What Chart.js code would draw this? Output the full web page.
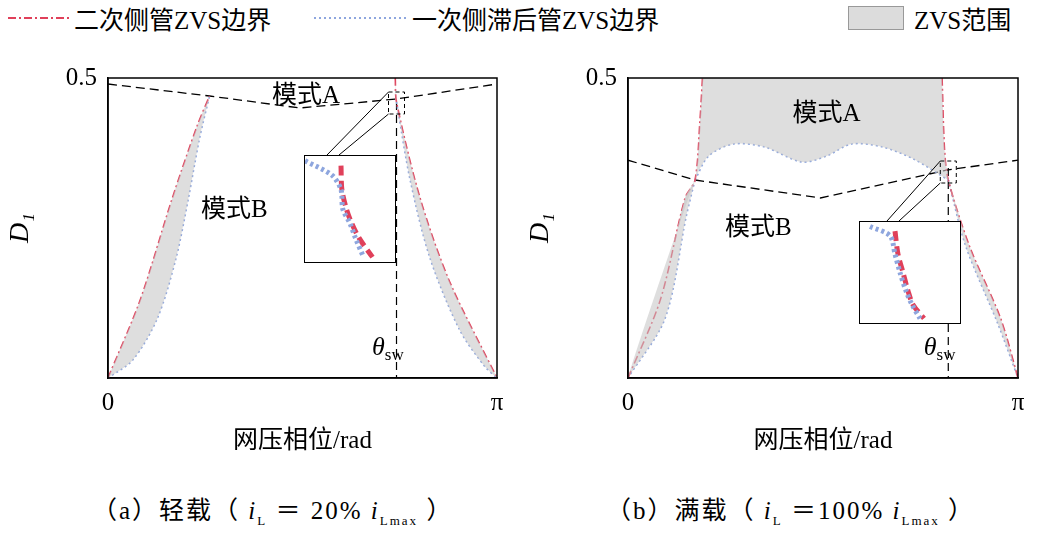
<!DOCTYPE html>
<html><head><meta charset="utf-8">
<script src="https://cdn.jsdelivr.net/npm/chart.js@4"></script>
<style>
body{margin:0;width:1063px;height:534px;background:#fff;position:relative;overflow:hidden;font-family:"Liberation Serif","Noto Sans CJK SC",serif;}
.box{position:absolute}
.leg{position:absolute;top:0;font-size:25px;display:flex;align-items:center;white-space:nowrap}
.cap{position:absolute;top:490px;font-size:25px;white-space:nowrap;letter-spacing:2px}
.inset{position:absolute;border:1.5px solid #000;background:#fff}
</style></head><body>
<div class="leg" style="left:6px"><svg width="68" height="20"><line x1="2" y1="10" x2="66" y2="10" stroke="#e0405a" stroke-width="2" stroke-dasharray="8,3,2,3"/></svg>二次侧管ZVS边界</div>
<div class="leg" style="left:312px"><svg width="100" height="20"><line x1="2" y1="10" x2="96" y2="10" stroke="#8ea6de" stroke-width="2" stroke-dasharray="2,3"/></svg>一次侧滞后管ZVS边界</div>
<div class="leg" style="left:848px"><span style="display:inline-block;width:54px;height:22px;background:#dcdcdc;border:1px solid #999;margin-right:10px"></span>ZVS范围</div>
<div class="box" style="left:0;top:0;width:510px;height:480px"><canvas id="c1"></canvas></div>
<div class="box" style="left:520px;top:0;width:511px;height:480px"><canvas id="c2"></canvas></div>
<div class="inset" style="left:304px;top:155px;width:90px;height:106px"><canvas id="i1"></canvas></div>
<div class="inset" style="left:859px;top:221px;width:100px;height:101px"><canvas id="i2"></canvas></div>
<div class="cap" style="left:92px">（a）轻载（ <i>i</i><sub style="font-size:13px">L</sub> ＝ 20% <i>i</i><sub style="font-size:13px">Lmax</sub> ）</div>
<div class="cap" style="left:606px">（b）满载（ <i>i</i><sub style="font-size:13px">L</sub> ＝100% <i>i</i><sub style="font-size:13px">Lmax</sub> ）</div>
<script>
const PI = Math.PI;
// Panel (a) light load: [rad, D1]
const aRedL = [[0,0],[0.26,0.13],[0.52,0.3],[0.72,0.42],[0.82,0.47]];
const aBlueL = [[0,0],[0.2,0.03],[0.4,0.1],[0.55,0.2],[0.65,0.3],[0.74,0.4],[0.82,0.47]];
const aRedR = [[2.32,0.5],[2.33,0.46],[2.52,0.3],[2.76,0.16],[PI,0]];
const aBlueR = [[2.33,0.46],[2.44,0.33],[2.6,0.2],[2.84,0.08],[3.04,0.02],[PI,0]];
const aDash = [[0,0.49],[0.82,0.47],[1.55,0.45],[2.33,0.465],[PI,0.49]];
const aSw = [[2.33,0.46],[2.33,0]];
// Panel (b) full load
const bRedL = [[0,0],[0.26,0.13],[0.46,0.3],[0.54,0.33],[0.58,0.43],[0.6,0.5]];
const bBlueL = [[0,0],[0.3,0.1],[0.47,0.27],[0.54,0.33]];
const bBlueTop = [[0.54,0.33],[0.65,0.37],[0.85,0.39],[1.1,0.385],[1.4,0.36],[1.6,0.37],[1.8,0.39],[2.05,0.385],[2.3,0.365],[2.58,0.33]];
const bRedR = [[2.53,0.5],[2.55,0.38],[2.58,0.33],[2.75,0.22],[3.0,0.1],[PI,0]];
const bBlueR = [[2.58,0.33],[2.72,0.22],[2.98,0.09],[PI,0]];
const bDash = [[0,0.363],[0.54,0.33],[1.55,0.3],[2.58,0.347],[PI,0.363]];
const bSw = [[2.58,0.35],[2.58,0]];
// Insets (zoomed detail, arbitrary units)
const iBlue = [[0,10],[3,8.5],[4,7],[4.2,5],[5,3.5],[5.6,2],[6.5,0]];
const iRed = [[4,9.5],[4.1,7],[4.6,5],[5.2,3.5],[6,2],[7.5,0]];
const jBlue = [[1,10],[3,9],[3.5,7],[4,5],[4.6,3],[5.2,1.5],[6,0]];
const jRed = [[3.5,9.5],[3.8,7],[4.3,5],[4.8,3],[5.3,1.5],[6.4,0]];

const RED='#e0405a', BLUE='#8ea6de', GRAY='rgba(200,200,200,0.6)';
const P = a => a.map(([x,y])=>({x,y}));
const poly = (...parts)=>P([].concat(...parts));
const line = (d,c,dash,w=1.6)=>({data:P(d),borderColor:c,borderDash:dash,borderWidth:w,pointRadius:0,fill:false,tension:0.3});
const shape = d=>({data:d,borderWidth:0,pointRadius:0,fill:'shape',backgroundColor:GRAY,tension:0.3});
const F = '"Liberation Serif","Noto Sans CJK SC",serif';

function mk(id, datasets, texts, sw, zoomBox){
  new Chart(document.getElementById(id),{type:'scatter',data:{datasets},
    options:{animation:false,responsive:true,maintainAspectRatio:false,showLine:true,
      layout:{padding:{top:78,right:13,left:0,bottom:0}},
      plugins:{legend:{display:false},tooltip:{enabled:false}},
      scales:{
        x:{type:'linear',min:0,max:PI,grid:{display:false},border:{color:'#000',width:1.5},
          afterFit:s=>{s.height=102},
          afterBuildTicks:s=>{s.ticks=[{value:0},{value:PI}]},
          ticks:{color:'#000',font:{family:F,size:25},padding:2,maxRotation:0,callback:v=>v===0?'0':'π'},
          title:{display:true,text:'网压相位/rad',color:'#000',font:{family:F,size:25},padding:{top:0,bottom:24}}},
        y:{min:0,max:0.5,grid:{display:false},border:{color:'#000',width:1.5},
          afterFit:s=>{s.width=108},
          afterBuildTicks:s=>{s.ticks=[{value:0.5}]},
          ticks:{color:'#000',font:{family:F,size:25},callback:v=>'0.5'},
          title:{display:true,text:'D₁',color:'#000',font:{family:F,size:28,style:'italic'},padding:{bottom:22}}}
      }},
    plugins:[{id:'deco',afterDatasetsDraw(c){
      const g=c.ctx,a=c.chartArea,xs=c.scales.x,ys=c.scales.y;
      g.save();g.strokeStyle='#000';g.lineWidth=1.5;g.strokeRect(a.left,a.top,a.width,a.height);
      g.fillStyle='#000';g.textBaseline='middle';
      texts.forEach(t=>{g.font=t.f||('25px '+F);g.textAlign='center';g.fillText(t.s,xs.getPixelForValue(t.x),ys.getPixelForValue(t.y));});
      const tx=xs.getPixelForValue(sw[0]),ty=ys.getPixelForValue(sw[1]);
      g.textAlign='right';g.font='italic 26px '+F;g.fillText('θ',tx-8,ty);g.font='17px '+F;g.textAlign='left';g.fillText('sw',tx-8,ty+8);
      const [zx,zy,ix,iy,iw]=zoomBox;
      const bx=xs.getPixelForValue(zx),by=ys.getPixelForValue(zy);
      g.lineWidth=1;g.setLineDash([4,3]);g.strokeRect(bx-8,by-10,16,22);g.setLineDash([]);
      g.beginPath();g.moveTo(bx-8,by+12);g.lineTo(ix+iw/2-10,iy);g.moveTo(bx-8,by-10);g.lineTo(ix+iw/2-22,iy);g.stroke();
      g.restore();
    }}]});
}
mk('c1',[
  shape(poly(aRedL,aBlueL.slice().reverse())),
  shape(poly(aRedR,aBlueR.slice().reverse())),
  line(aRedL,RED,[8,3,2,3]),line(aBlueL,BLUE,[2,3]),
  line(aRedR,RED,[8,3,2,3]),line(aBlueR,BLUE,[2,3]),
  {...line(aDash,'#000',[9,5],1.3),tension:0},{...line(aSw,'#000',[8,5],1.2),tension:0}
],[{s:'模式A',x:1.6,y:0.47},{s:'模式B',x:1.02,y:0.28}],[2.3,0.05],[2.33,0.46,304,155,90]);
mk('c2',[
  shape(poly(bRedL.slice().reverse(),bBlueTop,bRedR.slice(0,3).reverse())),
  shape(poly(bRedL.slice(0,4),bBlueL.slice().reverse())),
  shape(poly(bRedR.slice(2),bBlueR.slice().reverse())),
  line(bRedL,RED,[8,3,2,3]),line(bBlueL,BLUE,[2,3]),line(bBlueTop,BLUE,[2,3]),
  line(bRedR,RED,[8,3,2,3]),line(bBlueR,BLUE,[2,3]),
  {...line(bDash,'#000',[9,5],1.3),tension:0},{...line(bSw,'#000',[8,5],1.2),tension:0}
],[{s:'模式A',x:1.6,y:0.44},{s:'模式B',x:1.05,y:0.25}],[2.55,0.05],[2.58,0.345,339,221,100]);

function inset(id,b,r){
  new Chart(document.getElementById(id),{type:'scatter',data:{datasets:[
    {...line(b,BLUE,[3,3],5)},{...line(r,RED,[10,5],5)}]},
    options:{animation:false,responsive:true,maintainAspectRatio:false,showLine:true,
      plugins:{legend:{display:false},tooltip:{enabled:false}},
      scales:{x:{display:false,min:0,max:10},y:{display:false,min:-0.5,max:10.5}}}});
}
inset('i1',iBlue,iRed);inset('i2',jBlue,jRed);
</script></body></html>
